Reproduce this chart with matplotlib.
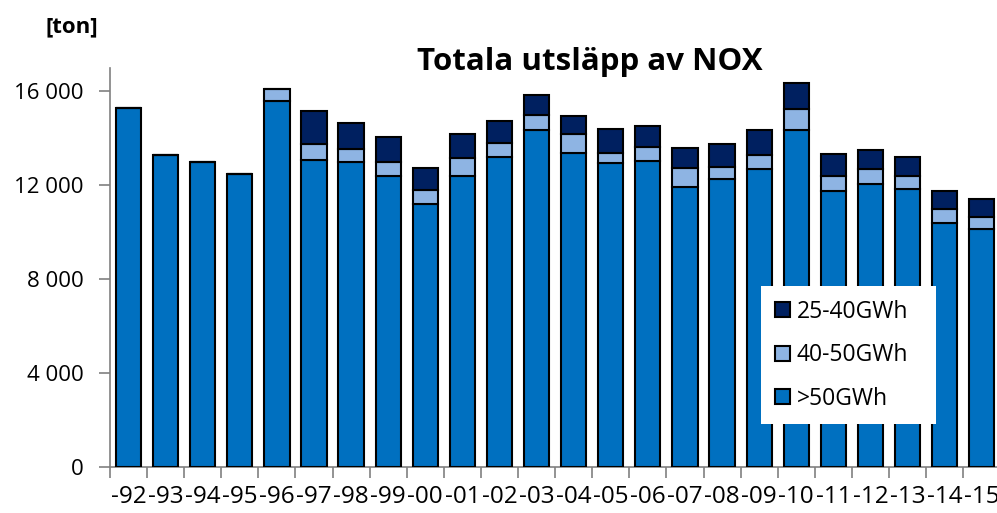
import matplotlib.pyplot as plt
import numpy as np

# Data (ton NOX) per year and plant size class
years = ['-92', '-93', '-94', '-95', '-96', '-97', '-98', '-99', '-00', '-01', '-02', '-03',
         '-04', '-05', '-06', '-07', '-08', '-09', '-10', '-11', '-12', '-13', '-14', '-15']
over50 = [15300, 13300, 13000, 12500, 15600, 13100, 13000, 12400, 11200, 12400, 13200, 14350,
          13380, 12950, 13050, 11950, 12250, 12700, 14350, 11750, 12050, 11830, 10380, 10120]
gwh40_50 = [0, 0, 0, 0, 500, 650, 550, 600, 600, 750, 600, 650,
            800, 450, 600, 800, 550, 600, 900, 650, 650, 550, 630, 550]
gwh25_40 = [0, 0, 0, 0, 0, 1400, 1100, 1050, 950, 1050, 950, 850,
            770, 1000, 880, 850, 970, 1050, 1100, 950, 800, 830, 740, 730]

plt.rcParams['font.family'] = ['Open Sans', 'DejaVu Sans']

fig = plt.figure(figsize=(9.97, 5.13), dpi=100)
ax = fig.add_axes([0.1103, 0.0897, 0.893, 0.7777])

x = np.arange(len(years))
w = 0.68
a = np.array(over50)
b = np.array(gwh40_50)
c = np.array(gwh25_40)

ax.bar(x, a, w, color='#0070C0', edgecolor='black', linewidth=1.5, label='>50GWh', zorder=3)
ax.bar(x, b, w, bottom=a, color='#8EB4E3', edgecolor='black', linewidth=1.5, label='40-50GWh', zorder=3)
ax.bar(x, c, w, bottom=a + b, color='#002060', edgecolor='black', linewidth=1.5, label='25-40GWh', zorder=3)

ax.set_xlim(-0.5, len(years) - 0.5)
ax.set_ylim(0, 17000)
ax.set_yticks([0, 4000, 8000, 12000, 16000])
ax.set_yticklabels(['0', '4 000', '8 000', '12 000', '16 000'], fontsize=16)

ax.set_xticks(x)
ax.set_xticklabels(years, fontsize=17.5)
ax.set_xticks(np.arange(len(years) + 1) - 0.5, minor=True)
ax.tick_params(axis='x', which='major', length=0, pad=13)
ax.tick_params(axis='x', which='minor', length=8, color='#808080', width=1.2)
ax.tick_params(axis='y', length=8, color='#808080', width=1.2, pad=11)

for s in ['top', 'right']:
    ax.spines[s].set_visible(False)
for s in ['left', 'bottom']:
    ax.spines[s].set_color('#808080')
    ax.spines[s].set_linewidth(1.2)

# legend box placed like the original (white, no border)
handles, labels = ax.get_legend_handles_labels()
leg = ax.legend(handles[::-1], labels[::-1], loc='upper left', mode='expand',
                bbox_to_anchor=(761 / 997, 1 - 419 / 513, 175 / 997, 133 / 513),
                bbox_transform=fig.transFigure,
                fontsize=16.5, frameon=True, fancybox=False, handlelength=0.65, handleheight=0.65,
                handletextpad=0.3, labelspacing=0.85, borderpad=0.6, borderaxespad=0)
leg.get_frame().set_edgecolor('none')
leg.get_frame().set_facecolor('white')
leg.get_frame().set_alpha(1)
leg.set_zorder(5)

fig.text(0.592, 0.879, 'Totala utsläpp av NOX', fontsize=22.5, fontweight='bold',
         ha='center', va='center')
fig.text(0.072, 0.947, '[ton]', fontsize=16, fontweight='bold', ha='center', va='center')

fig.savefig('out.png', dpi=100)
